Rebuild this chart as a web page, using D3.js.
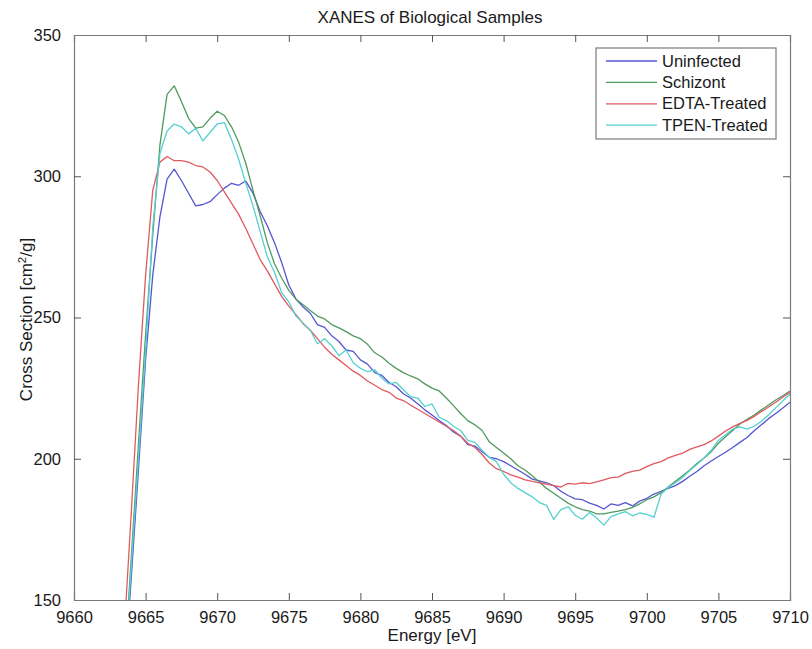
<!DOCTYPE html>
<html><head><meta charset="utf-8">
<script src="https://cdn.jsdelivr.net/npm/d3@7"></script>
<style>body{margin:0;background:#fff}svg{display:block}text{font-family:"Liberation Sans",Arial,sans-serif;fill:#1a1a1a}</style>
</head><body><svg id="c" width="812" height="649"></svg>
<script>
const energy = [9663.0,9663.5,9664.0,9664.5,9665.0,9665.5,9666.0,9666.5,9667.0,9667.5,9668.0,9668.5,9669.0,9669.5,9670.0,9670.5,9671.0,9671.5,9672.0,9672.5,9673.0,9673.5,9674.0,9674.5,9675.0,9675.5,9676.0,9676.5,9677.0,9677.5,9678.0,9678.5,9679.0,9679.5,9680.0,9680.5,9681.0,9681.5,9682.0,9682.5,9683.0,9683.5,9684.0,9684.5,9685.0,9685.5,9686.0,9686.5,9687.0,9687.5,9688.0,9688.5,9689.0,9689.5,9690.0,9690.5,9691.0,9691.5,9692.0,9692.5,9693.0,9693.5,9694.0,9694.5,9695.0,9695.5,9696.0,9696.5,9697.0,9697.5,9698.0,9698.5,9699.0,9699.5,9700.0,9700.5,9701.0,9701.5,9702.0,9702.5,9703.0,9703.5,9704.0,9704.5,9705.0,9705.5,9706.0,9706.5,9707.0,9707.5,9708.0,9708.5,9709.0,9709.5,9710.0];
const uninfected = [80,120,158,196,235,265,285.6,299,302.5,298.5,294,289.5,290,291,293.5,295.8,297.5,296.8,298.3,294,287.5,282.5,276.5,269.5,261.5,256.5,253.7,251.5,247.5,246.5,243.5,241.5,238.5,238,235,233.5,230.5,229.5,227,225.5,223,221.5,219.5,217.3,215.5,213.5,211.8,209.5,208,205,204.5,202.5,200.5,200,199,197.5,196,194.5,192.8,192.2,191.5,190.5,188.5,187,185.8,185.5,184.3,183.5,182.2,184,183.5,184.5,183.3,185,186,187.5,188.5,189.5,190.5,192,193.8,195.5,197.5,199.2,200.8,202.3,204,205.8,207.5,209.9,212,214.2,216,218,220];
const schizont = [85,125,165,205,244,279,311,329,332,326.5,320.5,317,317.5,320.5,323,321.5,317.5,312,304.5,295,286,276.5,269,264,259.6,256.5,254.5,252.5,250.5,249.5,247.5,246.3,245,243.5,242.5,240.5,237.5,236,233.8,232,230.5,229.3,228.3,226.5,225,224,221.5,218.8,216,213.5,212,210,206,204,202,200,197.5,196,194,191.8,189.5,187.8,186,184.3,183,182,181.5,180.5,180.5,181,181.5,182,182.8,184,185.5,186.5,188,190,192,194,196,198.3,200.3,202.5,205.5,207.8,210,212.3,214,215.5,217.3,219,220.8,222.3,224];
const edtaTreated = [95,138,181,226,265,295,305,307,305.5,305.5,305,303.8,303.3,301.5,298.5,294.5,290.5,286.5,281.5,276,270.5,266.5,262,257.5,254,251,247.8,245.5,242.5,239.5,237,235,233,231,229.5,227.5,226,224.5,223.5,221.5,220.6,219,217.5,216,214.5,213,211.5,210,208,205.5,204,201.5,198.5,196.5,195.5,194.3,193.5,192.5,192,191.5,191,190.5,190,191.3,191,191.5,191.2,191.8,192.5,193.3,193.5,194.8,195.5,196,197.2,198.3,199,200.3,201.2,202,203.3,204.2,205,206.3,208,209.8,211.3,212.5,213.6,215,216.7,218.3,220,221.8,223.5];
const tpenTreated = [80,122,162,200,238,282,308,316,318.5,317.5,315,317,312.5,315.5,318.5,319,313,306,297.5,289.5,280.5,271.5,266,258.8,255.5,250.5,248,245.5,240.7,242.5,240,236.5,238.5,234,232,230.8,231.5,228.5,226.5,227,224.5,222,221.5,218.5,219.4,214.7,213.5,211.5,210,206.5,205.8,203,200.5,199,194.5,191.5,189.5,188,186.5,184.5,183.5,178.5,182,183,180,178.6,181,179,176.5,179.5,180.5,181.3,179.8,180.8,180.3,179.3,187.5,189.8,191.5,193.4,195.8,198,200.3,203,206.5,208.5,210.5,211.3,210.5,211.5,213.3,215.5,218,220.5,222.8];
const seriesNames = ["Uninfected","Schizont","EDTA-Treated","TPEN-Treated"];
const seriesColors = ["#5555d2","#4f9a60","#e05a5f","#55cfd0"];
const xTicks = [9660,9665,9670,9675,9680,9685,9690,9695,9700,9705,9710];
const yTicks = [150,200,250,300,350];

const series = [uninfected, schizont, edtaTreated, tpenTreated];
const svg = d3.select("#c");
const L = 74, R = 790, T = 35, B = 600;
const x = d3.scaleLinear().domain([9660,9710]).range([L,R]);
const y = d3.scaleLinear().domain([150,350]).range([B,T]);

svg.append("defs").append("clipPath").attr("id","clip")
  .append("rect").attr("x",L).attr("y",T).attr("width",R-L).attr("height",B-T);

const line = d3.line().x(d=>x(d[0])).y(d=>y(d[1]));
const g = svg.append("g").attr("clip-path","url(#clip)");
series.forEach((s,i)=>{
  g.append("path").datum(energy.map((e,j)=>[e,s[j]]))
    .attr("d",line).attr("fill","none").attr("stroke",seriesColors[i])
    .attr("stroke-width",1.3).attr("stroke-linejoin","round");
});

const axisColor = "#7a7a7a";
const tk = 7;
const fs = 16.5;
const fsL = 17;
const xb = svg.append("g").attr("transform",`translate(0,${B})`)
  .call(d3.axisBottom(x).tickValues(xTicks).tickSize(-tk).tickPadding(tk+4).tickFormat(d3.format("d")));
const xt = svg.append("g").attr("transform",`translate(0,${T})`)
  .call(d3.axisTop(x).tickValues(xTicks).tickSize(-tk).tickFormat(""));
const yl = svg.append("g").attr("transform",`translate(${L},0)`)
  .call(d3.axisLeft(y).tickValues(yTicks).tickSize(-tk).tickPadding(tk+6).tickFormat(d3.format("d")));
const yr = svg.append("g").attr("transform",`translate(${R},0)`)
  .call(d3.axisRight(y).tickValues(yTicks).tickSize(-tk).tickFormat(""));
[xb,xt,yl,yr].forEach(a=>{
  a.select(".domain").attr("stroke",axisColor).attr("stroke-width",1.2);
  a.selectAll(".tick line").attr("stroke","#555");
  a.selectAll("text").attr("font-size",fs).attr("fill","#1a1a1a")
    .style("font-family","'Liberation Sans',Arial,sans-serif");
});
xb.selectAll(".tick line").filter(d=>d===9660||d===9710).remove();
xt.selectAll(".tick line").filter(d=>d===9660||d===9710).remove();
yl.selectAll(".tick line").filter(d=>d===150||d===350).remove();
yr.selectAll(".tick line").filter(d=>d===150||d===350).remove();

svg.append("text").attr("x",(L+R)/2-2).attr("y",23).attr("text-anchor","middle")
  .attr("font-size",fsL).text("XANES of Biological Samples");
svg.append("text").attr("x",(L+R)/2).attr("y",641).attr("text-anchor","middle")
  .attr("font-size",fsL).text("Energy [eV]");
const yt = svg.append("text").attr("transform",`translate(32,${(T+B)/2+2}) rotate(-90)`)
  .attr("text-anchor","middle").attr("font-size",fsL);
yt.append("tspan").text("Cross Section [cm");
yt.append("tspan").attr("dy",-6).attr("font-size",11.5).text("2");
yt.append("tspan").attr("dy",6).text("/g]");

const lg = svg.append("g");
lg.append("rect").attr("x",596).attr("y",48).attr("width",180).attr("height",91)
  .attr("fill","#fff").attr("stroke",axisColor).attr("stroke-width",1.2);
seriesNames.forEach((n,i)=>{
  const ly = 61 + i*21.4;
  lg.append("line").attr("x1",606).attr("x2",657).attr("y1",ly).attr("y2",ly)
    .attr("stroke",seriesColors[i]).attr("stroke-width",1.3);
  lg.append("text").attr("x",662).attr("y",ly+5.5).attr("font-size",fs).text(n);
});
</script></body></html>
